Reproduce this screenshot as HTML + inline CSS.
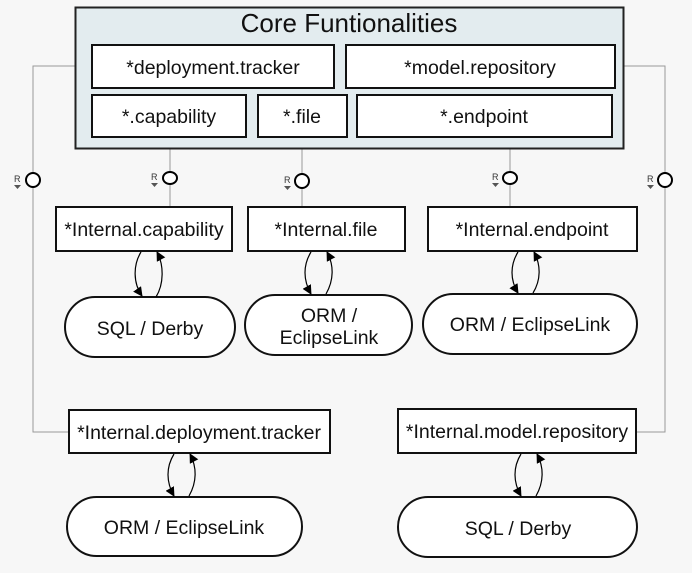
<!DOCTYPE html>
<html><head><style>
body{margin:0;background:#f7f7f7;}
svg{display:block;font-family:"Liberation Sans",sans-serif;}
</style></head><body>
<svg width="692" height="573" viewBox="0 0 692 573" xmlns="http://www.w3.org/2000/svg">
<defs>
<marker id="a" viewBox="0 0 10 10" refX="9" refY="5" markerWidth="8" markerHeight="8" orient="auto-start-reverse"><path d="M0,0 L10,5 L0,10 z" fill="#000"/></marker>
</defs>
<rect width="692" height="573" fill="#f7f7f7"/>
<g stroke="#999" stroke-width="1" fill="none">
<polyline points="92,66 33,66 33,432 69,432"/>
<polyline points="615,66 665,66 665,432 636,432"/>
<line x1="170" y1="137" x2="170" y2="207"/>
<line x1="302" y1="137" x2="302" y2="207"/>
<line x1="510" y1="137" x2="510" y2="207"/>
</g>
<rect x="75.5" y="7.5" width="548" height="141" fill="#e3ecef" stroke="#222" stroke-width="2"/>
<text x="349" y="32" font-size="26" text-anchor="middle" fill="#111">Core Funtionalities</text>
<g fill="#fff" stroke="#111" stroke-width="2">
<rect x="92" y="45" width="242" height="43"/>
<rect x="346" y="45" width="269" height="43"/>
<rect x="92" y="95" width="154" height="42"/>
<rect x="258" y="95" width="89" height="42"/>
<rect x="357" y="95" width="255" height="42"/>
<rect x="56" y="207" width="176" height="44"/>
<rect x="248" y="207" width="157" height="44"/>
<rect x="428" y="207" width="209" height="44"/>
<rect x="69" y="410" width="261" height="43"/>
<rect x="398" y="409" width="238" height="44"/>
<rect x="65" y="297" width="170" height="60" rx="30"/>
<rect x="245" y="295" width="167" height="60" rx="30"/>
<rect x="423" y="294" width="214" height="60" rx="30"/>
<rect x="67" y="497" width="235" height="59" rx="29.5"/>
<rect x="398" y="497" width="239" height="60" rx="30"/>
</g>
<g font-size="19.5" text-anchor="middle" fill="#111">
<text x="213" y="74">*deployment.tracker</text>
<text x="480" y="74">*model.repository</text>
<text x="169" y="123">*.capability</text>
<text x="302" y="123">*.file</text>
<text x="484" y="123">*.endpoint</text>
<text x="144" y="236">*Internal.capability</text>
<text x="326" y="236">*Internal.file</text>
<text x="532" y="236">*Internal.endpoint</text>
<text x="199" y="439">*Internal.deployment.tracker</text>
<text x="517" y="438">*Internal.model.repository</text>
<text x="150" y="335">SQL / Derby</text>
<text x="329" y="322">ORM /</text>
<text x="329" y="344">EclipseLink</text>
<text x="530" y="331">ORM / EclipseLink</text>
<text x="184" y="534">ORM / EclipseLink</text>
<text x="518" y="535">SQL / Derby</text>
</g>
<g fill="#fff" stroke="#000" stroke-width="2">
<circle cx="33" cy="180" r="7"/>
<ellipse cx="170" cy="178" rx="7" ry="6"/>
<circle cx="302" cy="181" r="7"/>
<ellipse cx="510" cy="178" rx="7" ry="6"/>
<circle cx="665" cy="180" r="7"/>
</g>
<g font-size="9" fill="#333">
<text x="14" y="182">R</text><path d="M14,185 h7 l-3.5,4z" fill="#555"/>
<text x="151" y="180">R</text><path d="M151,183 h7 l-3.5,4z" fill="#555"/>
<text x="284" y="183">R</text><path d="M284,186 h7 l-3.5,4z" fill="#555"/>
<text x="492" y="180">R</text><path d="M492,183 h7 l-3.5,4z" fill="#555"/>
<text x="647" y="182">R</text><path d="M647,185 h7 l-3.5,4z" fill="#555"/>
</g>
<g stroke="#000" stroke-width="1.2" fill="none" marker-end="url(#a)">
<path d="M141,252 C133,265 133,283 142,296"/>
<path d="M156,297 C164,284 164,265 157,252"/>
<path d="M311,252 C303,265 303,280 311,294"/>
<path d="M326,294 C334,280 334,265 327,252"/>
<path d="M518,252 C510,265 510,280 518,293"/>
<path d="M533,293 C541,280 541,265 534,252"/>
<path d="M174,454 C166,467 166,482 174,496"/>
<path d="M189,496 C197,482 197,467 190,454"/>
<path d="M521,454 C513,467 513,482 521,496"/>
<path d="M536,496 C544,482 544,467 537,454"/>
</g>
</svg>
</body></html>
